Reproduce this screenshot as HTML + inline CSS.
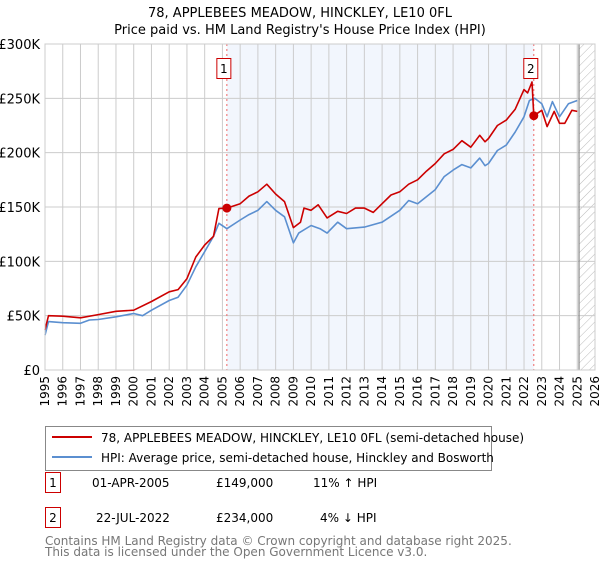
<!DOCTYPE html>
<html><head><meta charset="utf-8"><style>
body{margin:0;background:#fff;font-family:"DejaVu Sans","Liberation Sans",sans-serif;}
svg text{font-family:"DejaVu Sans","Liberation Sans",sans-serif;}
</style></head><body>
<svg id="chart" width="600" height="560" xmlns="http://www.w3.org/2000/svg">
<defs><pattern id="hatch" patternUnits="userSpaceOnUse" width="6" height="6" patternTransform="rotate(45)"><line x1="0" y1="0" x2="0" y2="6" stroke="#bbb" stroke-width="1"/></pattern></defs>
<text x="300" y="17" text-anchor="middle" font-size="13">78, APPLEBEES MEADOW, HINCKLEY, LE10 0FL</text>
<text x="300" y="34" text-anchor="middle" font-size="13">Price paid vs. HM Land Registry's House Price Index (HPI)</text>
<g id="grid"></g><g id="series"></g><g id="axes"></g>
<rect x="45.5" y="426.5" width="446" height="44" fill="#fff" stroke="#888"/>
<line x1="52" y1="437" x2="92" y2="437" stroke="#cc0000" stroke-width="2"/>
<text x="101" y="442" font-size="12">78, APPLEBEES MEADOW, HINCKLEY, LE10 0FL (semi-detached house)</text>
<line x1="52" y1="457" x2="92" y2="457" stroke="#5b8fd0" stroke-width="2"/>
<text x="101" y="462" font-size="12">HPI: Average price, semi-detached house, Hinckley and Bosworth</text>
<g font-size="12">
<rect x="45.5" y="472.5" width="15" height="20" fill="#fff" stroke="#cc0000"/><text x="53" y="487" text-anchor="middle">1</text>
<text x="92" y="487">01-APR-2005</text><text x="216" y="487">£149,000</text><text x="313" y="487">11% ↑ HPI</text></g>
<g font-size="12">
<rect x="45.5" y="507.5" width="15" height="20" fill="#fff" stroke="#cc0000"/><text x="53" y="522" text-anchor="middle">2</text>
<text x="96" y="522">22-JUL-2022</text><text x="216" y="522">£234,000</text><text x="320" y="522">4% ↓ HPI</text></g>
<text x="45" y="545" font-size="12" fill="#777">Contains HM Land Registry data © Crown copyright and database right 2025.</text>
<text x="45" y="556" font-size="12" fill="#777">This data is licensed under the Open Government Licence v3.0.</text>
</svg>
<script>
const yTicks=[0,50000,100000,150000,200000,250000,300000];
const yTickLabels=["£0","£50K","£100K","£150K","£200K","£250K","£300K"];
const xYears=[1995,1996,1997,1998,1999,2000,2001,2002,2003,2004,2005,2006,2007,2008,2009,2010,2011,2012,2013,2014,2015,2016,2017,2018,2019,2020,2021,2022,2023,2024,2025,2026];
const hpiDates=[1995.0,1995.2,1996,1997,1997.5,1998,1999,2000,2000.5,2001,2002,2002.5,2003,2003.5,2004,2004.5,2004.8,2005.25,2006,2006.5,2007,2007.5,2008,2008.5,2009.0,2009.3,2010,2010.5,2010.9,2011.5,2012,2013,2014,2015,2015.5,2016,2017,2017.5,2018,2018.5,2019,2019.5,2019.8,2020,2020.5,2021,2021.5,2022,2022.3,2022.6,2023,2023.3,2023.6,2024,2024.5,2025];
const hpiValues=[32000,44500,43500,43000,46000,46500,49000,52000,50000,55000,64000,67000,78000,95000,109000,123000,135000,130000,138000,143000,147000,155000,147000,141000,117000,126000,133000,130000,126000,136000,130000,131500,136000,147000,156000,153000,166000,178000,184000,189000,186000,195000,188000,190000,202000,207000,219000,233000,248000,250000,245000,233000,247000,233000,245000,248000];
const priceDates=[1995.0,1995.2,1996,1997,1998,1999,2000,2001,2002,2002.5,2003,2003.5,2004,2004.5,2004.8,2005.25,2006,2006.5,2007,2007.5,2008,2008.5,2009.0,2009.4,2009.6,2010.0,2010.4,2010.9,2011.5,2012,2012.5,2013,2013.5,2014,2014.5,2015,2015.5,2016,2016.5,2017,2017.5,2018,2018.5,2019,2019.5,2019.8,2020,2020.5,2021,2021.5,2022,2022.2,2022.45,2022.55,2023,2023.3,2023.7,2024,2024.3,2024.7,2025];
const priceValues=[37000,50000,49500,48000,51000,54000,55000,63000,72000,74000,84000,104000,115000,123000,148500,149000,153000,160000,164000,171000,162000,155000,131000,136000,149000,147000,152000,140000,146000,144000,149000,149000,145000,153000,161000,164000,171000,175000,183000,190000,199000,203000,211000,205000,216000,210000,213000,225000,230000,240000,258000,255000,265000,234000,239000,224000,238000,227000,227000,239000,238000];
const sales=[{label:"1",date:2005.25,value:149000},{label:"2",date:2022.55,value:234000}];
const X0=45,X1=595,Y0=370,Y1=44;
const xS=d=>X0+(d-1995)/(2026-1995)*(X1-X0);
const yS=v=>Y0-v/300000*(Y0-Y1);
const NS="http://www.w3.org/2000/svg";
function mk(tag,attrs,parent){const e=document.createElementNS(NS,tag);for(const k in attrs)e.setAttribute(k,attrs[k]);parent.appendChild(e);return e;}
const grid=document.getElementById('grid'),ser=document.getElementById('series'),ax=document.getElementById('axes');
let sh=mk('rect',{x:xS(sales[0].date),y:Y1,width:xS(sales[1].date)-xS(sales[0].date),height:Y0-Y1,fill:'#f2f6fd'},grid);


let ht=mk('rect',{x:xS(2025.1),y:Y1,width:X1-xS(2025.1),height:Y0-Y1,fill:'url(#hatch)'},grid);


xYears.forEach(y=>{
 const g=mk('line',{x1:xS(y),x2:xS(y),y1:Y1,y2:Y0,stroke:'#ccc','stroke-width':1},grid);
 
 
 const x=xS(y);
 const t=mk('text',{x:0,y:0,'font-size':12,'text-anchor':'end',transform:`translate(${x+4},376) rotate(-90)`},ax);
 t.textContent=y;
 
 
});
yTicks.forEach((v,i)=>{
 const g=mk('line',{x1:X0,x2:X1,y1:yS(v),y2:yS(v),stroke:'#ccc','stroke-width':1},grid);
 
 
 const t=mk('text',{x:40,y:yS(v)+5,'font-size':13,'text-anchor':'end'},ax);
 t.textContent=yTickLabels[i];
 
 
});
let vl=mk('line',{x1:xS(2025.1),x2:xS(2025.1),y1:Y1,y2:Y0,stroke:'#888','stroke-width':1.2},grid);


sales.forEach(s=>{
 const l=mk('line',{x1:xS(s.date),x2:xS(s.date),y1:Y1,y2:Y0,stroke:'#ee6666','stroke-dasharray':'2,3','stroke-width':1},ser);
 
 
});
function path(ds,vs,color,name){
 const d=ds.map((t,i)=>(i?'L':'M')+xS(t).toFixed(1)+','+yS(vs[i]).toFixed(1)).join('');
 const p=mk('path',{d:d,fill:'none',stroke:color,'stroke-width':1.6,'stroke-linejoin':'round'},ser);
 
 
}
path(hpiDates,hpiValues,'#5b8fd0','hpi-line');
path(priceDates,priceValues,'#cc0000','price-paid-line');
sales.forEach(s=>{
 const c=mk('circle',{cx:xS(s.date),cy:yS(s.value),r:4.5,fill:'#cc0000'},ser);
 
 
 const x=xS(s.date)-3;
 const b=mk('rect',{x:x-7,y:58.5,width:14,height:20,fill:'#fff',stroke:'#cc0000'},ser);
 
 
 const t=mk('text',{x:x,y:73,'font-size':12,'text-anchor':'middle'},ser);
 t.textContent=s.label;
 
 
});
let fr=mk('rect',{x:X0,y:Y1,width:X1-X0,height:Y0-Y1,fill:'none',stroke:'#ccc'},ax);


</script>
</body></html>
